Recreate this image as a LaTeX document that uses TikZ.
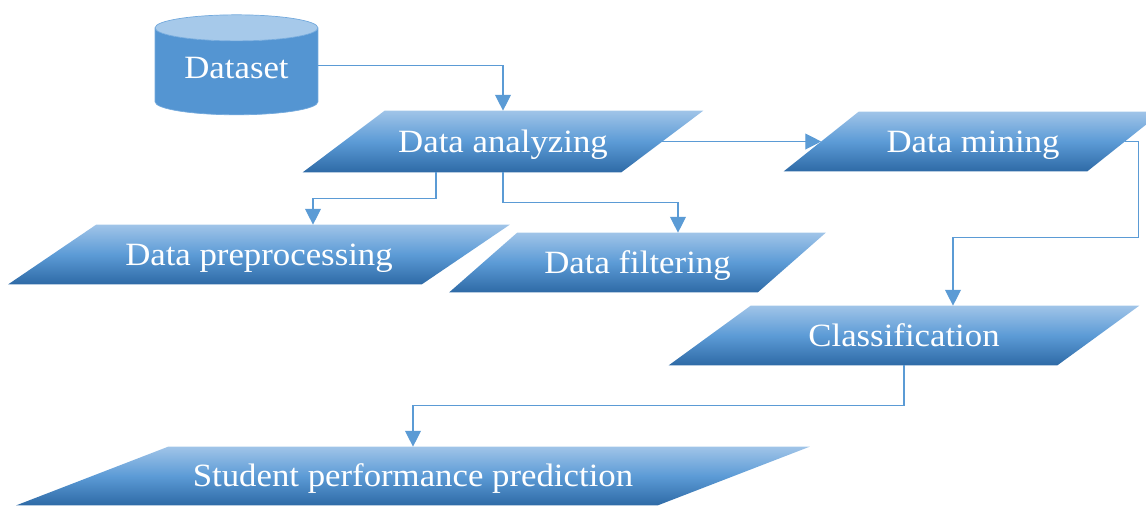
\documentclass[tikz,border=0pt]{standalone}
\usepackage{fontspec}
\setmainfont{Liberation Serif}[FakeStretch=1.07]
\usepackage{xcolor}
\usepackage{tikz}
\usetikzlibrary{shapes.geometric}
\usetikzlibrary{arrows.meta}
\usetikzlibrary{backgrounds}
\definecolor{paratop}{HTML}{A0C4E8}
\definecolor{paramid}{HTML}{5C9BD6}
\definecolor{parabot}{HTML}{2E6AA6}
\definecolor{cylbody}{HTML}{5495D2}
\definecolor{cylend}{HTML}{A6C9EA}
\definecolor{cylline}{HTML}{74AADD}
\definecolor{linkblue}{HTML}{5B9BD5}
\newcommand{\boxfont}{\fontsize{18.5}{20}\selectfont}
\newcommand{\parafill}[2]{%
\shade [top color=paratop, bottom color=parabot, middle color=paramid]
    ([shift={(-#2,0)}]#1.south west) -- ([shift={(-#2,0)}]#1.south east) --
    ([shift={(#2,0)}]#1.north east) -- ([shift={(#2,0)}]#1.north west) -- cycle;
}
\tikzstyle{mypara} = [rectangle, inner sep=0pt, text=white, font=\boxfont,
text height=12pt, text depth=0pt]
\tikzstyle{mycyl} = [cylinder, shape border rotate=90, aspect=0.25,
minimum width=3.26cm, minimum height=2cm, inner sep=0pt,
cylinder uses custom fill, cylinder body fill=cylbody, cylinder end fill=cylend,
draw=cylline, line width=0.4pt, text=white, font=\boxfont,
text height=8.2pt, text depth=0pt]
\tikzstyle{myarrow} = [draw=linkblue, line width=0.7pt,
-{Triangle[length=9pt, width=9pt]}]

\begin{document}
\begin{tikzpicture}[x=0.02cm, y=-0.02cm]
        \useasboundingbox (0,0) rectangle (1146,505);
        \node [mycyl] (ds) at (236.5,71.5) {Dataset};
        \node [mypara, minimum width=6.36cm, minimum height=1.22cm] (da) at (503,141.5) {Data analyzing};
        \node [mypara, minimum width=6.06cm, minimum height=1.18cm] (dm) at (973,141.5) {Data mining};
        \node [mypara, minimum width=8.26cm, minimum height=1.18cm] (dp) at (259,254.5) {Data preprocessing};
        \node [mypara, minimum width=6.16cm, minimum height=1.18cm] (df) at (637.5,262.5) {Data filtering};
        \node [mypara, minimum width=7.76cm, minimum height=1.18cm] (cl) at (904,335.5) {Classification};
        \node [mypara, minimum width=12.82cm, minimum height=1.16cm] (spp) at (413,476) {Student performance prediction};
        \begin{pgfonlayer}{background}
            \parafill{da}{41}
            \parafill{dm}{37.5}
            \parafill{dp}{44}
            \parafill{df}{34}
            \parafill{cl}{41}
            \parafill{spp}{76}
        \end{pgfonlayer}
        \draw [myarrow] ([shift={(0,-6)}]ds.east) -| (da.north);
        \draw [myarrow] (da.east) -- (dm.west);
        \draw [myarrow] ([shift={(-67,0)}]da.south) -- ++(0,26) -| ([shift={(54,0)}]dp.north);
        \draw [myarrow] (da.south) -- ++(0,30) -| ([shift={(40.5,0)}]df.north);
        \draw [myarrow] (dm.east) -- ++(14,0) -- ++(0,96) -| ([shift={(49,0)}]cl.north);
        \draw [myarrow] (cl.south) -- ++(0,40) -| (spp.north);
    \end{tikzpicture}
\end{document}
